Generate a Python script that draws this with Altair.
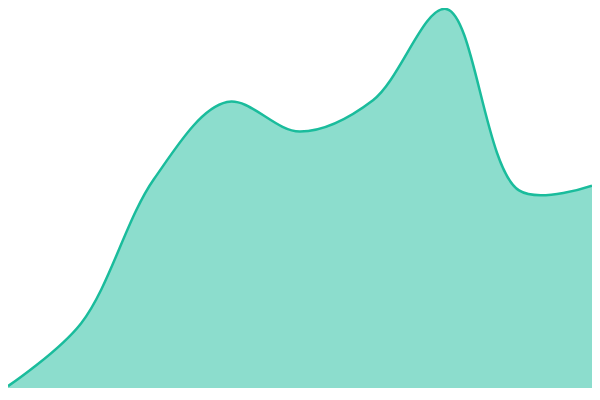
import altair as alt
import pandas as pd

x_vals = [0, 1, 2, 3, 4, 5, 6, 7, 8]
y_vals = [2, 68, 220, 301, 270, 303, 399, 208, 213]

df = pd.DataFrame({"x": x_vals, "y": y_vals})

x = alt.X("x:Q", axis=None, scale=alt.Scale(domain=[0, 8], nice=False, zero=False))
y = alt.Y("y:Q", axis=None, scale=alt.Scale(domain=[0, 400], nice=False))

area = alt.Chart(df).mark_area(
    interpolate="catmull-rom", color="#1abc9c", fillOpacity=0.5,
    line={"color": "#1abc9c", "strokeWidth": 2.5},
).encode(x=x, y=y)

chart = area.properties(
    width=584, height=380, padding=0,
    autosize=alt.AutoSizeParams(type="none"),
).configure_view(stroke=None)

chart.save("out.html", embed_options={"renderer": "svg", "actions": False})
